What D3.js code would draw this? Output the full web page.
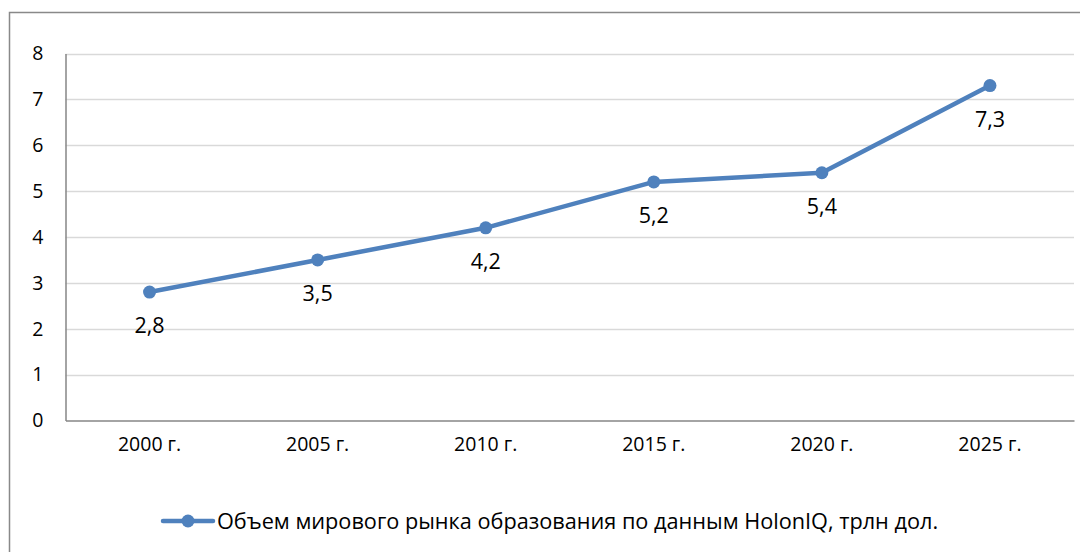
<!DOCTYPE html>
<html><head><meta charset="utf-8">
<script src="https://cdn.jsdelivr.net/npm/d3@7"></script>
<style>
html,body{margin:0;padding:0;background:#fff;}
svg{display:block;font-family:"Open Sans",sans-serif;}
</style></head>
<body>
<svg id="c" width="1080" height="552"></svg>
<script>
const categories = ["2000 г.","2005 г.","2010 г.","2015 г.","2020 г.","2025 г."];
const values = [2.8,3.5,4.2,5.2,5.4,7.3];
const valueLabels = ["2,8","3,5","4,2","5,2","5,4","7,3"];
const yTicks = [0,1,2,3,4,5,6,7,8];
const seriesName = "Объем мирового рынка образования по данным HolonIQ, трлн дол.";

const svg = d3.select("#c");
const color = "#4f81bd";
const plot = {left:65.5, right:1074, top:53.5, bottom:420.5};

// chart border
svg.append("rect").attr("x",9.5).attr("y",12.5).attr("width",1080).attr("height",560)
  .attr("fill","none").attr("stroke","#898989").attr("stroke-width",1.5);

const x = d3.scaleBand().domain(categories).range([plot.left, plot.right]);
const y = d3.scaleLinear().domain([0,8]).range([plot.bottom, plot.top]);

// gridlines
svg.append("g").selectAll("line").data(yTicks.filter(d=>d>0)).join("line")
  .attr("x1",plot.left).attr("x2",plot.right)
  .attr("y1",d=>Math.round(y(d))+0.5).attr("y2",d=>Math.round(y(d))+0.5)
  .attr("stroke","#d9d9d9").attr("stroke-width",1.5);

// y axis
const yAxis = svg.append("g").attr("transform",`translate(${plot.left},0)`)
  .call(d3.axisLeft(y).tickValues(yTicks).tickSize(0).tickPadding(22));
yAxis.select(".domain").attr("stroke","#868686").attr("stroke-width",1.5);
yAxis.selectAll("text").attr("font-size","19.5px").attr("fill","#000").attr("font-family","Open Sans");

// x axis
const xAxis = svg.append("g").attr("transform",`translate(0,${plot.bottom})`)
  .call(d3.axisBottom(x).tickSize(0).tickPadding(17));
xAxis.select(".domain").attr("stroke","#868686").attr("stroke-width",1.5);
xAxis.selectAll("text").attr("font-size","19.5px").attr("fill","#000").attr("font-family","Open Sans");

// line
const cx = d => x(d) + x.bandwidth()/2;
const pts = categories.map((c,i)=>[cx(c), y(values[i])]);
svg.append("path").datum(pts).attr("d",d3.line())
  .attr("fill","none").attr("stroke",color).attr("stroke-width",4.5)
  .attr("stroke-linejoin","round").attr("stroke-linecap","round");
svg.append("g").selectAll("circle").data(pts).join("circle")
  .attr("cx",d=>d[0]).attr("cy",d=>d[1]).attr("r",6.5).attr("fill",color);

// data labels
svg.append("g").selectAll("text").data(pts).join("text")
  .attr("x",d=>d[0]).attr("y",d=>d[1]+41)
  .attr("text-anchor","middle").attr("font-size","21.5px").attr("fill","#000")
  .text((d,i)=>valueLabels[i]);

// legend
const lg = svg.append("g");
lg.append("line").attr("x1",163).attr("x2",213).attr("y1",521).attr("y2",521)
  .attr("stroke",color).attr("stroke-width",4.5).attr("stroke-linecap","round");
lg.append("circle").attr("cx",188).attr("cy",521).attr("r",6.5).attr("fill",color);
lg.append("text").attr("x",217).attr("y",528.5).attr("font-size","21.7px").attr("fill","#000")
  .text(seriesName);
</script>
</body></html>
